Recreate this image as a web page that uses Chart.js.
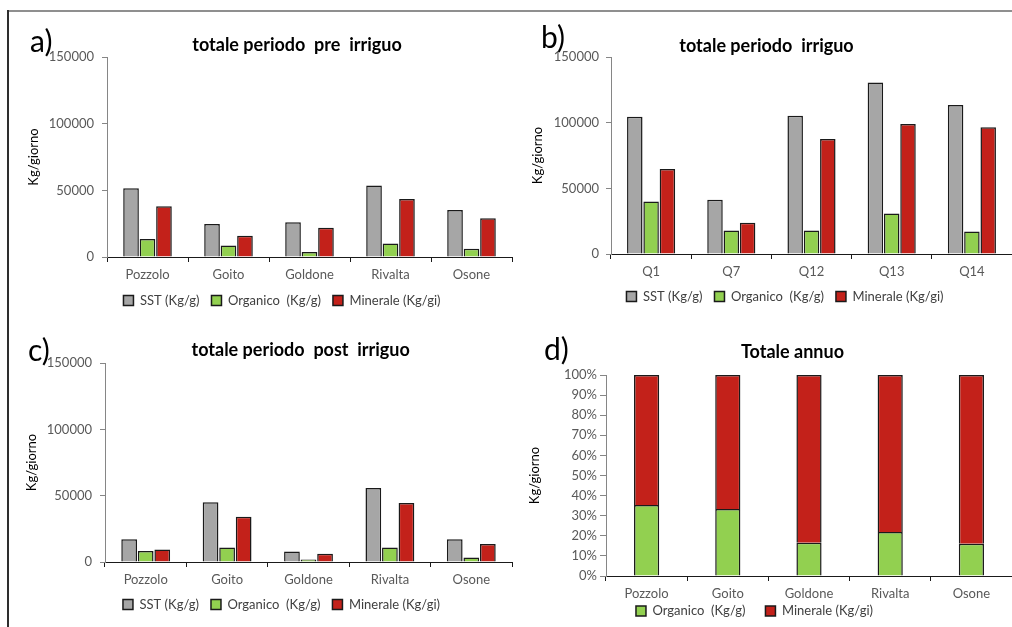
<!DOCTYPE html>
<html lang="it">
<head>
<meta charset="utf-8">
<title>Carichi solidi sospesi</title>
<script src="https://cdn.jsdelivr.net/npm/chart.js@4.4.1/dist/chart.umd.min.js"></script>
<style>
  html, body { margin: 0; padding: 0; background: #ffffff; overflow: hidden; }
  body { width: 1012px; height: 627px; position: relative; }
  canvas { position: absolute; }
  .rule { position: absolute; }
</style>
</head>
<body>
<div class="rule" style="left:7px;top:10px;width:1005px;height:2px;background:#8f8f8f;"></div>
<div class="rule" style="left:7px;top:10px;width:2px;height:617px;background:#2e2e2e;"></div>

<canvas id="chartA" width="512" height="306" style="left:8px;top:12px;"></canvas>
<canvas id="chartB" width="492" height="306" style="left:520px;top:12px;"></canvas>
<canvas id="chartC" width="512" height="309" style="left:8px;top:318px;"></canvas>
<canvas id="chartD" width="492" height="330" style="left:520px;top:318px;"></canvas>

<script>
// Stazioni lungo il fiume e punti di prelievo del periodo irriguo
const stazioni = ['Pozzolo', 'Goito', 'Goldone', 'Rivalta', 'Osone'];
const puntiIrrigui = ['Q1', 'Q7', 'Q12', 'Q13', 'Q14'];

// Periodo pre irriguo (Kg/giorno)
const preSST = [51500, 24700, 26000, 53700, 35200];
const preOrganico = [13500, 8700, 3700, 10200, 6200];
const preMinerale = [38000, 16000, 22000, 43500, 29000];

// Periodo irriguo (Kg/giorno)
const irrSST = [104500, 41400, 105200, 130500, 113500];
const irrOrganico = [40000, 17900, 17900, 30800, 17200];
const irrMinerale = [64700, 23700, 87500, 99000, 96600];

// Periodo post irriguo (Kg/giorno)
const postSST = [17100, 45000, 8000, 55800, 17100];
const postOrganico = [8300, 11000, 1800, 11000, 3300];
const postMinerale = [9500, 34200, 6300, 44500, 13600];

// Totale annuo, ripartizione percentuale
const annuoOrganico = [35.3, 33.3, 16.6, 21.9, 16.1];
const annuoMinerale = [64.7, 66.7, 83.4, 78.1, 83.9];

// Etichette
const nomiSerie = ['SST (Kg/g)', 'Organico  (Kg/g)', 'Minerale (Kg/gi)'];
const titoloAsseY = 'Kg/giorno';
const maxCarico = 150000;
const passoCarico = 50000;

const FONT = 'Lato';
const colSST = '#a6a6a6';
const colOrganico = '#92d050';
const colMinerale = '#c3211a';
const colBordo = '#1a1a1a';

// Sposta titolo e legenda e disegna la sigla del pannello
const pannello = {
  id: 'pannello',
  afterLayout(chart, args, opts) {
    if (chart.titleBlock) {
      chart.titleBlock.left += opts.titleDx || 0;
      chart.titleBlock.right += opts.titleDx || 0;
    }
    if (chart.legend) {
      chart.legend.left += opts.legendDx || 0;
      chart.legend.right += opts.legendDx || 0;
      chart.legend.top += opts.legendDy || 0;
      chart.legend.bottom += opts.legendDy || 0;
    }
  },
  afterDraw(chart, args, opts) {
    const ctx = chart.ctx;
    ctx.save();
    ctx.font = '30px ' + FONT;
    ctx.fillStyle = '#000000';
    ctx.textBaseline = 'middle';
    ctx.textAlign = 'left';
    ctx.fillText(opts.sigla, opts.siglaX, opts.siglaY);
    ctx.restore();
  }
};

function scalaX(cfg) {
  return {
    stacked: !!cfg.stacked,
    afterFit: s => { s.height = cfg.xH; },
    grid: { display: true, drawOnChartArea: false, tickLength: 5, color: colBordo, lineWidth: 1 },
    border: { display: true, color: colBordo, width: 1 },
    ticks: { color: '#595959', padding: 5, font: { family: FONT, size: 13 }, maxRotation: 0, autoSkip: false }
  };
}

function scalaY(cfg) {
  return {
    stacked: !!cfg.stacked,
    min: 0,
    max: cfg.max,
    afterFit: s => { s.width = cfg.yW; },
    grid: { display: true, drawOnChartArea: false, tickLength: cfg.tickLen || 5, color: '#868686', lineWidth: 1 },
    border: { display: true, color: '#868686', width: 1 },
    ticks: {
      stepSize: cfg.step,
      color: '#595959',
      padding: cfg.tickPad,
      font: { family: FONT, size: 13 },
      callback: cfg.fmt
    },
    title: {
      display: true,
      text: titoloAsseY,
      color: '#000000',
      font: { family: FONT, size: 13, lineHeight: 1.2 },
      padding: { top: cfg.titlePad, bottom: 0 }
    }
  };
}

function dataset(label, data, color, bp, cp) {
  return {
    label: label,
    data: data,
    backgroundColor: color,
    borderColor: colBordo,
    borderWidth: 1.5,
    barPercentage: bp,
    categoryPercentage: cp
  };
}

function grafico(id, cfg) {
  new Chart(document.getElementById(id), {
    type: 'bar',
    data: { labels: cfg.labels, datasets: cfg.datasets },
    options: {
      responsive: false,
      animation: false,
      devicePixelRatio: 1,
      events: [],
      layout: { padding: { left: 0, right: cfg.padRight, top: 0, bottom: cfg.padBottom } },
      scales: { x: scalaX(cfg), y: scalaY(cfg) },
      plugins: {
        tooltip: { enabled: false },
        title: {
          display: true,
          text: cfg.title,
          color: '#000000',
          font: { family: FONT, size: 18, weight: 'bold', lineHeight: 1.2 },
          padding: { top: cfg.titleTop, bottom: cfg.titleBottom }
        },
        legend: {
          display: true,
          position: 'bottom',
          labels: {
            boxWidth: 10,
            boxHeight: 10,
            padding: cfg.legendPad,
            color: '#404040',
            font: { family: FONT, size: 13 }
          }
        },
        pannello: {
          titleDx: cfg.titleDx,
          legendDx: cfg.legendDx,
          legendDy: cfg.legendDy || 0,
          sigla: cfg.sigla,
          siglaX: cfg.siglaX,
          siglaY: cfg.siglaY
        }
      }
    },
    plugins: [pannello]
  });
}

const numero = v => String(v);
const percento = v => v + '%';
const BP = 0.95, CP = 0.61;

grafico('chartA', {
  labels: stazioni,
  datasets: [
    dataset(nomiSerie[0], preSST, colSST, BP, CP),
    dataset(nomiSerie[1], preOrganico, colOrganico, BP, CP),
    dataset(nomiSerie[2], preMinerale, colMinerale, BP, CP)
  ],
  title: 'totale periodo  pre  irriguo',
  max: maxCarico, step: passoCarico, fmt: numero,
  yW: 99, xH: 25, padRight: 8, padBottom: 1,
  tickPad: 8, titlePad: 18.2,
  titleTop: 22.2, titleBottom: 1.2, titleDx: 37,
  legendPad: 12, legendDx: 22,
  sigla: 'a)', siglaX: 22, siglaY: 30
});

grafico('chartB', {
  labels: puntiIrrigui,
  datasets: [
    dataset(nomiSerie[0], irrSST, colSST, BP, CP),
    dataset(nomiSerie[1], irrOrganico, colOrganico, BP, CP),
    dataset(nomiSerie[2], irrMinerale, colMinerale, BP, CP)
  ],
  title: 'totale periodo  irriguo',
  max: maxCarico, step: passoCarico, fmt: numero,
  yW: 91, xH: 24, padRight: 0, padBottom: 5,
  tickPad: 7, titlePad: 10.2,
  titleTop: 23.2, titleBottom: 0.2, titleDx: 0.5,
  legendPad: 12, legendDx: 19,
  sigla: 'b)', siglaX: 21, siglaY: 26
});

grafico('chartC', {
  labels: stazioni,
  datasets: [
    dataset(nomiSerie[0], postSST, colSST, BP, CP),
    dataset(nomiSerie[1], postOrganico, colOrganico, BP, CP),
    dataset(nomiSerie[2], postMinerale, colMinerale, BP, CP)
  ],
  title: 'totale periodo  post  irriguo',
  max: maxCarico, step: passoCarico, fmt: numero,
  yW: 97, xH: 24, padRight: 8, padBottom: 6,
  tickPad: 8, titlePad: 16.2,
  titleTop: 21.2, titleBottom: 2.2, titleDx: 40.7,
  legendPad: 12, legendDx: 21.5,
  sigla: 'c)', siglaX: 20, siglaY: 33
});

grafico('chartD', {
  labels: stazioni,
  datasets: [
    dataset(nomiSerie[1], annuoOrganico, colOrganico, 1, 0.31),
    dataset(nomiSerie[2], annuoMinerale, colMinerale, 1, 0.31)
  ],
  stacked: true,
  title: 'Totale annuo',
  max: 100, step: 10, fmt: percento,
  yW: 86, xH: 27, padRight: 0, padBottom: 2,
  tickPad: 3, tickLen: 6, titlePad: 7.2,
  titleTop: 22.9, titleBottom: 12.5, titleDx: 26.5,
  legendPad: 20, legendDx: -11.5, legendDy: -18.5,
  sigla: 'd)', siglaX: 24, siglaY: 32
});
</script>
</body>
</html>
